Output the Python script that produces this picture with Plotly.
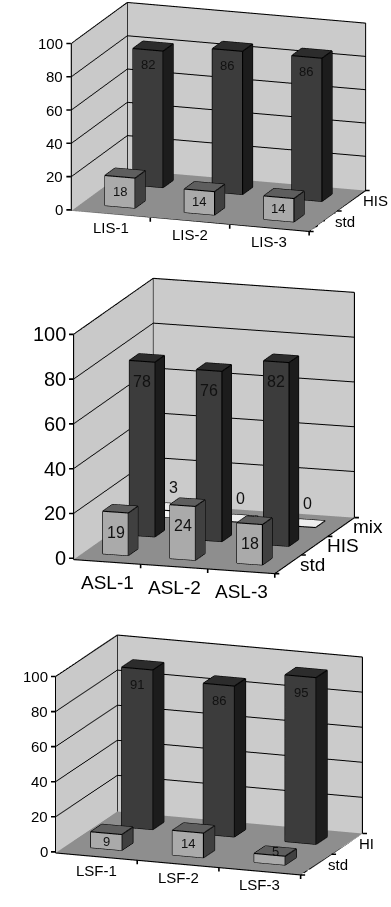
import math
import plotly.graph_objects as go

# ---- data -------------------------------------------------------------
lis_categories = ["LIS-1", "LIS-2", "LIS-3"]
lis_series = ["std", "HIS"]
lis_std = [18, 14, 14]
lis_his = [82, 86, 86]

asl_categories = ["ASL-1", "ASL-2", "ASL-3"]
asl_series = ["std", "HIS", "mix"]
asl_std = [19, 24, 18]
asl_his = [78, 76, 82]
asl_mix = [3, 0, 0]

lsf_categories = ["LSF-1", "LSF-2", "LSF-3"]
lsf_series = ["std", "HI"]
lsf_std = [9, 14, 5]
lsf_hi = [91, 86, 95]

value_ticks = [0, 20, 40, 60, 80, 100]

# ---- styling ----------------------------------------------------------
FONT = "Liberation Sans, Arial, sans-serif"
SERIES_COLORS = {
    "std": dict(front="#aaaaaa", top="#5e5e5e", side="#404040"),
    "HIS": dict(front="#3c3c3c", top="#2c2c2c", side="#1c1c1c"),
    "HI": dict(front="#3c3c3c", top="#2c2c2c", side="#1c1c1c"),
    "mix": dict(front="#f4f4f4", top="#eeeeee", side="#bdbdbd"),
}
WALL_LEFT = "#c9c9c9"
WALL_BACK = "#cbcbcb"
FLOOR = "#8e8e8e"
BAR_W = 0.38     # fraction of a category slot
BAR_D = 0.36     # fraction of a series row
Z_FLOOR = -0.6   # floor sits a hair under zero so flat bars stay visible
FIG_W, FIG_H = 391, 907

# Each panel: view angles (deg), box size in screen pixels (width, depth,
# height), scene domain in pixels (left, top, right, bottom) and where the
# centre of the box lands on the page.
panels = [
    dict(scene="scene", categories=lis_categories, series=lis_series,
         values=[lis_std, lis_his],
         theta=19.0, phi=14.6, size=(252, 172, 173),
         box=(46.5, 0, 390.5, 252), center=(218, 117),
         tick_font=15, cat_font=15, ser_font=15, val_font=13, mix_lift=20,
         cat_drop=3),
    dict(scene="scene2", categories=asl_categories, series=asl_series,
         values=[asl_std, asl_his, asl_mix],
         theta=17.5, phi=12.8, size=(211, 265, 231),
         box=(41, 262, 385, 594), center=(214, 426),
         tick_font=20, cat_font=19, ser_font=19, val_font=16, mix_lift=20,
         cat_drop=8),
    dict(scene="scene3", categories=lsf_categories, series=lsf_series,
         values=[lsf_std, lsf_hi],
         theta=20.1, phi=14.2, size=(261, 180, 182),
         box=(35, 602, 379, 894), center=(209, 755),
         tick_font=15, cat_font=15, ser_font=15, val_font=13, mix_lift=20,
         cat_drop=3),
]

TRIANGLES = [(0, 1, 2), (0, 2, 3), (4, 5, 6), (4, 6, 7), (0, 1, 5), (0, 5, 4),
             (3, 2, 6), (3, 6, 7), (0, 3, 7), (0, 7, 4), (1, 2, 6), (1, 6, 5)]
TRI_FACE = ["side", "side", "top", "top", "front", "front",
            "side", "side", "side", "side", "side", "side"]
EDGES = [(0, 1), (1, 2), (2, 3), (3, 0), (4, 5), (5, 6), (6, 7), (7, 4),
         (0, 4), (1, 5), (2, 6), (3, 7)]


def cuboid(x0, x1, y0, y1, z0, z1, colors, scene):
    xs = [x0, x1, x1, x0, x0, x1, x1, x0]
    ys = [y0, y0, y1, y1, y0, y0, y1, y1]
    zs = [z0, z0, z0, z0, z1, z1, z1, z1]
    mesh = go.Mesh3d(
        x=xs, y=ys, z=zs,
        i=[t[0] for t in TRIANGLES], j=[t[1] for t in TRIANGLES],
        k=[t[2] for t in TRIANGLES],
        facecolor=[colors[f] for f in TRI_FACE],
        flatshading=True,
        lighting=dict(ambient=1, diffuse=0, specular=0, fresnel=0, roughness=1),
        hoverinfo="skip", showscale=False, scene=scene)
    ex, ey, ez = [], [], []
    for a, b in EDGES:
        ex += [xs[a], xs[b], None]
        ey += [ys[a], ys[b], None]
        ez += [zs[a], zs[b], None]
    return mesh, (ex, ey, ez)


def camera(theta_deg, phi_deg, shift_px, px_per_unit, r=2.0):
    """Orthographic camera from the front-right; shift_px moves the drawing
    (right, up) inside the scene viewport."""
    t, p = math.radians(theta_deg), math.radians(phi_deg)
    right = (math.cos(t), math.sin(t), 0.0)
    up = (-math.sin(t) * math.sin(p), math.cos(t) * math.sin(p), math.cos(p))
    back = (math.sin(t) * math.cos(p), -math.cos(t) * math.cos(p), math.sin(p))
    sx, sy = shift_px
    c = [-(sx * right[i] + sy * up[i]) / px_per_unit for i in range(3)]
    e = [c[i] + r * back[i] for i in range(3)]
    return dict(eye=dict(x=e[0], y=e[1], z=e[2]),
                center=dict(x=c[0], y=c[1], z=c[2]),
                up=dict(x=0, y=0, z=1),
                projection=dict(type="orthographic"))


def label_anchor(series_name, value, col, row, mix_lift):
    """Where a bar's value label sits (x, y, z) and how far it is lifted."""
    xc = col + 0.5
    yc = row + 0.5
    yf = yc - BAR_D / 2
    if series_name == "mix":
        return xc, yc, value, mix_lift
    if value < 8:
        return xc, yc, value, 0
    if value <= 18:
        return xc, yf, value / 2, 0
    return xc, yf, value - 9, 0


def tick_mark(x, y, z, ax, ay):
    return dict(x=x, y=y, z=z, text=" ", showarrow=True, arrowhead=0,
                arrowwidth=1.6, arrowcolor="black", ax=ax, ay=ay,
                font=dict(size=1))


fig = go.Figure()
layout_scenes = {}

for p in panels:
    sc = p["scene"]
    ncat = len(p["categories"])
    nser = len(p["series"])
    edge_x, edge_y, edge_z = [], [], []
    annotations = []

    for row, (sname, vals) in enumerate(zip(p["series"], p["values"])):
        for col, v in enumerate(vals):
            x0 = col + 0.5 - BAR_W / 2
            x1 = col + 0.5 + BAR_W / 2
            y0 = row + 0.5 - BAR_D / 2
            y1 = row + 0.5 + BAR_D / 2
            mesh, (ex, ey, ez) = cuboid(x0, x1, y0, y1, 0, v,
                                        SERIES_COLORS[sname], sc)
            fig.add_trace(mesh)
            edge_x += ex
            edge_y += ey
            edge_z += ez
            lx, ly, lz, lift = label_anchor(sname, v, col, row, p["mix_lift"])
            annotations.append(dict(
                x=lx, y=ly, z=lz, text=str(v), showarrow=False,
                yshift=lift, font=dict(family=FONT, size=p["val_font"],
                                       color="#111111")))

    # outline of walls and floor
    zt = value_ticks[-1]
    frame = [
        ((0, 0, Z_FLOOR), (0, 0, zt)),
        ((0, 0, zt), (0, nser, zt)),
        ((0, nser, Z_FLOOR), (0, nser, zt)),
        ((0, nser, zt), (ncat, nser, zt)),
        ((ncat, nser, Z_FLOOR), (ncat, nser, zt)),
        ((0, 0, Z_FLOOR), (ncat, 0, Z_FLOOR)),
        ((ncat, 0, Z_FLOOR), (ncat, nser, Z_FLOOR)),
    ]
    for a, b in frame:
        edge_x += [a[0], b[0], None]
        edge_y += [a[1], b[1], None]
        edge_z += [a[2], b[2], None]

    fig.add_trace(go.Scatter3d(
        x=edge_x, y=edge_y, z=edge_z, mode="lines",
        line=dict(color="black", width=2.2), hoverinfo="skip",
        showlegend=False, connectgaps=False, scene=sc))

    # ticks and tick labels
    for t in value_ticks:
        annotations.append(tick_mark(0, 0, t, -6, 0))
        annotations.append(dict(
            x=0, y=0, z=t, text=str(t), showarrow=False, xanchor="right",
            xshift=-6, font=dict(family=FONT, size=p["tick_font"], color="black")))
    for k in range(1, ncat + 1):
        annotations.append(tick_mark(k, 0, Z_FLOOR, 0, 6))
    for k in range(0, nser + 1):
        annotations.append(tick_mark(ncat, k, Z_FLOOR, 6, 0))
    for col, c in enumerate(p["categories"]):
        annotations.append(dict(
            x=col + 0.5, y=0, z=Z_FLOOR, text=c, showarrow=False,
            yanchor="top", yshift=-p["cat_drop"],
            font=dict(family=FONT, size=p["cat_font"], color="black")))
    for row, s in enumerate(p["series"]):
        annotations.append(dict(
            x=ncat, y=row + 0.5, z=Z_FLOOR, text=s, showarrow=False,
            xanchor="left", xshift=10,
            font=dict(family=FONT, size=p["ser_font"], color="black")))

    left, top, right, bottom = p["box"]
    half_h = (bottom - top) / 2.0   # pixels per normalised scene unit
    shift = (p["center"][0] - (left + right) / 2.0,
             (top + bottom) / 2.0 - p["center"][1])
    L, D, H = p["size"]
    axis_base = dict(showgrid=False, zeroline=False, showline=False,
                     showticklabels=False, ticks="", title=dict(text=""),
                     showspikes=False, showbackground=True)
    layout_scenes[sc] = dict(
        domain=dict(x=[left / FIG_W, right / FIG_W],
                    y=[1 - bottom / FIG_H, 1 - top / FIG_H]),
        xaxis=dict(axis_base, range=[0, ncat], backgroundcolor=WALL_LEFT),
        yaxis=dict(axis_base, range=[0, nser], backgroundcolor=WALL_BACK),
        zaxis=dict(axis_base, range=[Z_FLOOR, zt], tickvals=value_ticks[1:],
                   showgrid=True, gridcolor="black", gridwidth=2,
                   backgroundcolor=FLOOR),
        aspectmode="manual",
        aspectratio=dict(x=L / half_h, y=D / half_h, z=H / half_h),
        camera=camera(p["theta"], p["phi"], shift, half_h),
        annotations=annotations,
        bgcolor="rgba(0,0,0,0)",
        dragmode=False,
    )

fig.update_layout(
    width=FIG_W, height=FIG_H,
    margin=dict(l=0, r=0, t=0, b=0),
    paper_bgcolor="white",
    showlegend=False,
    hovermode=False,
    **layout_scenes,
)

fig.write_html("out.html", config={"displayModeBar": False})
